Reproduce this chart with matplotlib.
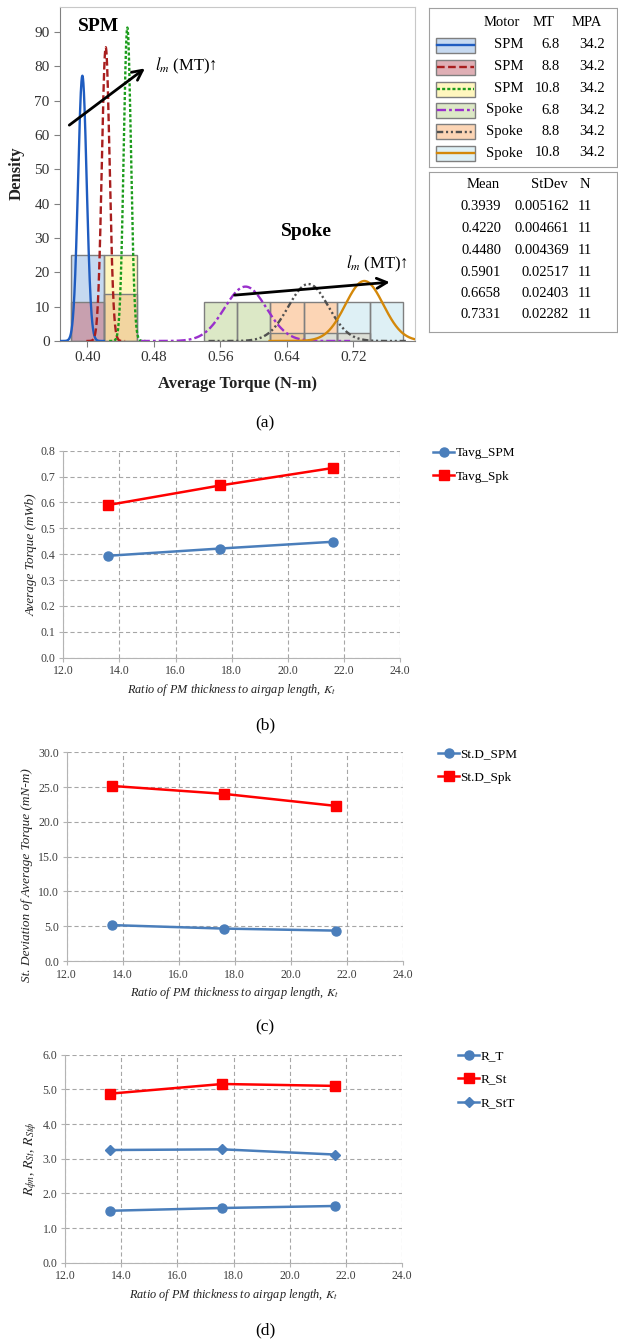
import numpy as np
import matplotlib
matplotlib.use('Agg')
import matplotlib.pyplot as plt
from matplotlib.patches import Rectangle
from matplotlib.lines import Line2D

plt.rcParams['font.family'] = ['Liberation Serif', 'DejaVu Serif']
plt.rcParams['mathtext.fontset'] = 'stix'
plt.rcParams['lines.scale_dashes'] = False

# ---------------- data: panel (a) ----------------
motor = ['SPM', 'SPM', 'SPM', 'Spoke', 'Spoke', 'Spoke']
mt = ['6.8', '8.8', '10.8', '6.8', '8.8', '10.8']
mpa = ['34.2', '34.2', '34.2', '34.2', '34.2', '34.2']
means = [0.3939, 0.4220, 0.4480, 0.5901, 0.6658, 0.7331]
stdevs = [0.005162, 0.004661, 0.004369, 0.02517, 0.02403, 0.02282]
n_obs = [11, 11, 11, 11, 11, 11]
bin_width = 0.04
hist_left = [[0.38], [0.38, 0.42], [0.42],
             [0.54, 0.58, 0.62], [0.62, 0.66, 0.70], [0.66, 0.70, 0.74]]
hist_density = [[25.0], [11.36, 13.64], [25.0],
                [11.36, 11.36, 2.27], [11.36, 11.36, 2.27], [2.27, 11.36, 11.36]]
density_ticks = [0, 10, 20, 30, 40, 50, 60, 70, 80, 90]
torque_ticks = [0.40, 0.48, 0.56, 0.64, 0.72]

# ---------------- data: panels (b)-(d) ----------------
kt = [13.6, 17.6, 21.6]
tavg_spm = [0.3939, 0.4220, 0.4480]
tavg_spk = [0.5901, 0.6658, 0.7331]
std_spm = [5.162, 4.661, 4.369]
std_spk = [25.17, 24.03, 22.30]
r_t = [1.498, 1.578, 1.636]
r_st = [4.876, 5.155, 5.10]
r_stt = [3.25, 3.27, 3.12]
kt_ticks = [12.0, 14.0, 16.0, 18.0, 20.0, 22.0, 24.0]

# ---------------- styles ----------------
line_colors = ['#1f5cc0', '#a81e1e', '#1c9c1c', '#9a30cc', '#505050', '#d4880a']
line_styles = ['-', (0, (5.5, 2.5)), (0, (2.2, 1.5)), (0, (6.5, 2.2, 2, 2.2)),
               (0, (4.5, 2, 1.5, 2, 1.5, 2)), '-']
fill_colors = ['#a0c0e6', '#ca7a85', '#fff093', '#c6d9a0', '#fab984', '#c8e6ef']
fill_alpha = 0.6

W, H = 618, 1341
fig = plt.figure(figsize=(W / 100, H / 100), dpi=100)


def ax_px(x0, y0, x1, y1):
    return fig.add_axes([x0 / W, 1 - y1 / H, (x1 - x0) / W, (y1 - y0) / H])


# ================= panel (a) =================
axa = ax_px(60, 7, 415, 341)
for i in range(6):
    axa.bar(hist_left[i], hist_density[i], width=bin_width, align='edge',
            facecolor=fill_colors[i], alpha=fill_alpha, edgecolor='none', zorder=1 + i * 0.1)
    axa.bar(hist_left[i], hist_density[i], width=bin_width, align='edge',
            facecolor='none', edgecolor='#7f7f7f', linewidth=1.0, zorder=2)
for i in range(6):
    x = np.linspace(means[i] - 5 * stdevs[i], means[i] + 5 * stdevs[i], 400)
    y = np.exp(-0.5 * ((x - means[i]) / stdevs[i]) ** 2) / (stdevs[i] * np.sqrt(2 * np.pi))
    axa.plot(x, y, color=line_colors[i], linestyle=line_styles[i], lw=1.7, zorder=3)

axa.set_xlim(0.367, 0.794)
axa.set_ylim(0, 97.3)
axa.set_xticks(torque_ticks)
axa.set_xticklabels([f'{t:.2f}' for t in torque_ticks])
axa.set_yticks(density_ticks)
axa.tick_params(labelsize=11, colors='#333333', length=4, color='#808080')
for s in ['left', 'bottom']:
    axa.spines[s].set_color('#808080')
for s in ['top', 'right']:
    axa.spines[s].set_color('#c8c8c8')
axa.set_xlabel('Average Torque (N-m)', fontsize=12, fontweight='bold', color='#222222', labelpad=8)
fig.text(17 / W, 1 - 173 / H, 'Density', rotation=90, fontsize=12, fontweight='bold',
         color='#222222', ha='center', va='center')
axa.text(0.413, 91.5, 'SPM', fontsize=14, fontweight='bold', ha='center', va='center')
axa.text(0.663, 31.8, 'Spoke', fontsize=14, fontweight='bold', ha='center', va='center')
arrow = dict(arrowstyle='->', lw=2.0, color='black', mutation_scale=18)
axa.annotate('', xy=(0.4718, 79.9), xytext=(0.3755, 62.4), arrowprops=arrow, zorder=5)
axa.annotate('', xy=(0.767, 17.2), xytext=(0.5737, 13.3), arrowprops=arrow, zorder=5)
axa.text(0.4818, 80, r'$l_m$ (MT)↑', fontsize=12, ha='left', va='center')
axa.text(0.7105, 22.6, r'$l_m$ (MT)↑', fontsize=12, ha='left', va='center')

# legend box 1
leg1 = ax_px(429, 8, 617, 167)
leg1.set_xlim(429, 617)
leg1.set_ylim(167, 8)
leg1.set_xticks([]); leg1.set_yticks([])
for s in leg1.spines.values():
    s.set_color('#a0a0a0')
fs = 10.5
leg1.text(502, 23, 'Motor', fontsize=fs, ha='center', va='center')
leg1.text(544, 23, 'MT', fontsize=fs, ha='center', va='center')
leg1.text(587, 23, 'MPA', fontsize=fs, ha='center', va='center')
row_y = [45, 67, 89, 110, 131.5, 153]
for i in range(6):
    yc = row_y[i]
    leg1.add_patch(Rectangle((436, yc - 7.5), 39, 15, facecolor=fill_colors[i], alpha=fill_alpha,
                             edgecolor='none'))
    leg1.add_patch(Rectangle((436, yc - 7.5), 39, 15, facecolor='none', edgecolor='#7f7f7f', lw=1))
    leg1.add_line(Line2D([437, 474], [yc, yc], color=line_colors[i], linestyle=line_styles[i], lw=1.7))
    leg1.text(523, yc, motor[i], fontsize=fs, ha='right', va='center')
    leg1.text(560, yc, mt[i], fontsize=fs, ha='right', va='center')
    leg1.text(605, yc, mpa[i], fontsize=fs, ha='right', va='center')

# legend box 2
leg2 = ax_px(429, 172, 617, 332)
leg2.set_xlim(429, 617)
leg2.set_ylim(332, 172)
leg2.set_xticks([]); leg2.set_yticks([])
for s in leg2.spines.values():
    s.set_color('#a0a0a0')
leg2.text(483, 185, 'Mean', fontsize=fs, ha='center', va='center')
leg2.text(549, 185, 'StDev', fontsize=fs, ha='center', va='center')
leg2.text(585, 185, 'N', fontsize=fs, ha='center', va='center')
row_y2 = [207, 229, 250.5, 272, 293.5, 315]
for i in range(6):
    yc = row_y2[i]
    leg2.text(501, yc, f'{means[i]:.4f}', fontsize=fs, ha='right', va='center')
    leg2.text(569, yc, f'{stdevs[i]:.4g}' if stdevs[i] >= 0.01 else f'{stdevs[i]:.6f}',
              fontsize=fs, ha='right', va='center')
    leg2.text(592, yc, str(n_obs[i]), fontsize=fs, ha='right', va='center')

# ================= panels (b)-(d) =================
BLUE = '#4a7ebb'
RED = '#ff0000'
xlab = r'Ratio of PM thickness to airgap length, $K_t$'


def style(ax, ymax, ystep):
    ax.set_xlim(12, 24)
    ax.set_ylim(0, ymax)
    ax.set_xticks(kt_ticks)
    ax.set_xticklabels([f'{t:.1f}' for t in kt_ticks])
    yt = np.arange(0, ymax + ystep / 2, ystep)
    ax.set_yticks(yt)
    ax.set_yticklabels([f'{v:.1f}' for v in yt])
    ax.grid(True, color='#a6a6a6', linestyle=(0, (3, 2)), linewidth=0.8)
    ax.set_axisbelow(True)
    for s in ['top', 'right']:
        ax.spines[s].set_visible(False)
    for s in ['left', 'bottom']:
        ax.spines[s].set_color('#b4b4b4')
    ax.tick_params(labelsize=8.6, colors='#404040', length=3, color='#b4b4b4', pad=2.5)
    ax.set_xlabel(xlab, fontsize=8.8, style='italic', color='#222222', labelpad=3)


def legend(ax, x, ytop):
    ax.legend(loc='upper left', bbox_to_anchor=(x / W, 1 - ytop / H), bbox_transform=fig.transFigure,
              frameon=False, borderpad=0, borderaxespad=0, handlelength=1.6, handletextpad=0.1,
              labelspacing=0.85, fontsize=9.5)


# (b)
axb = ax_px(63.3, 450.7, 400, 657.7)
axb.plot(kt, tavg_spm, color=BLUE, lw=1.8, marker='o', ms=6.5, label='Tavg_SPM')
axb.plot(kt, tavg_spk, color=RED, lw=1.8, marker='s', ms=6.5, label='Tavg_Spk')
style(axb, 0.8, 0.1)
axb.set_ylabel('Average Torque (mWb)', fontsize=9.5, style='italic', color='#222222')
axb.yaxis.set_label_coords(-0.075, 0.5)
legend(axb, 433, 447)

# (c)
axc = ax_px(66.7, 752.3, 402.7, 961)
axc.plot(kt, std_spm, color=BLUE, lw=1.8, marker='o', ms=6.5, label='St.D_SPM')
axc.plot(kt, std_spk, color=RED, lw=1.8, marker='s', ms=6.5, label='St.D_Spk')
style(axc, 30, 5)
axc.set_ylabel('St. Deviation of Average Torque (mN-m)', fontsize=9.5, style='italic', color='#222222')
axc.yaxis.set_label_coords(-0.10, 0.41)
legend(axc, 438, 748)

# (d)
axd = ax_px(65, 1054.7, 402.3, 1262.7)
axd.plot(kt, r_t, color=BLUE, lw=1.8, marker='o', ms=6.5, label='R_T')
axd.plot(kt, r_st, color=RED, lw=1.8, marker='s', ms=6.5, label='R_St')
axd.plot(kt, r_stt, color=BLUE, lw=1.8, marker='D', ms=5.5, label='R_StT')
style(axd, 6, 1)
axd.set_ylabel(r'$R_{\phi n}$, $R_{St}$, $R_{St\phi}$', fontsize=10, color='#222222')
axd.yaxis.set_label_coords(-0.077, 0.5)
legend(axd, 458, 1050)

# captions
for lab, yc in [('(a)', 423), ('(b)', 725), ('(c)', 1027), ('(d)', 1330)]:
    fig.text(265 / W, 1 - yc / H, lab, fontsize=12.5, ha='center', va='center')

fig.savefig('out.png', dpi=100)
